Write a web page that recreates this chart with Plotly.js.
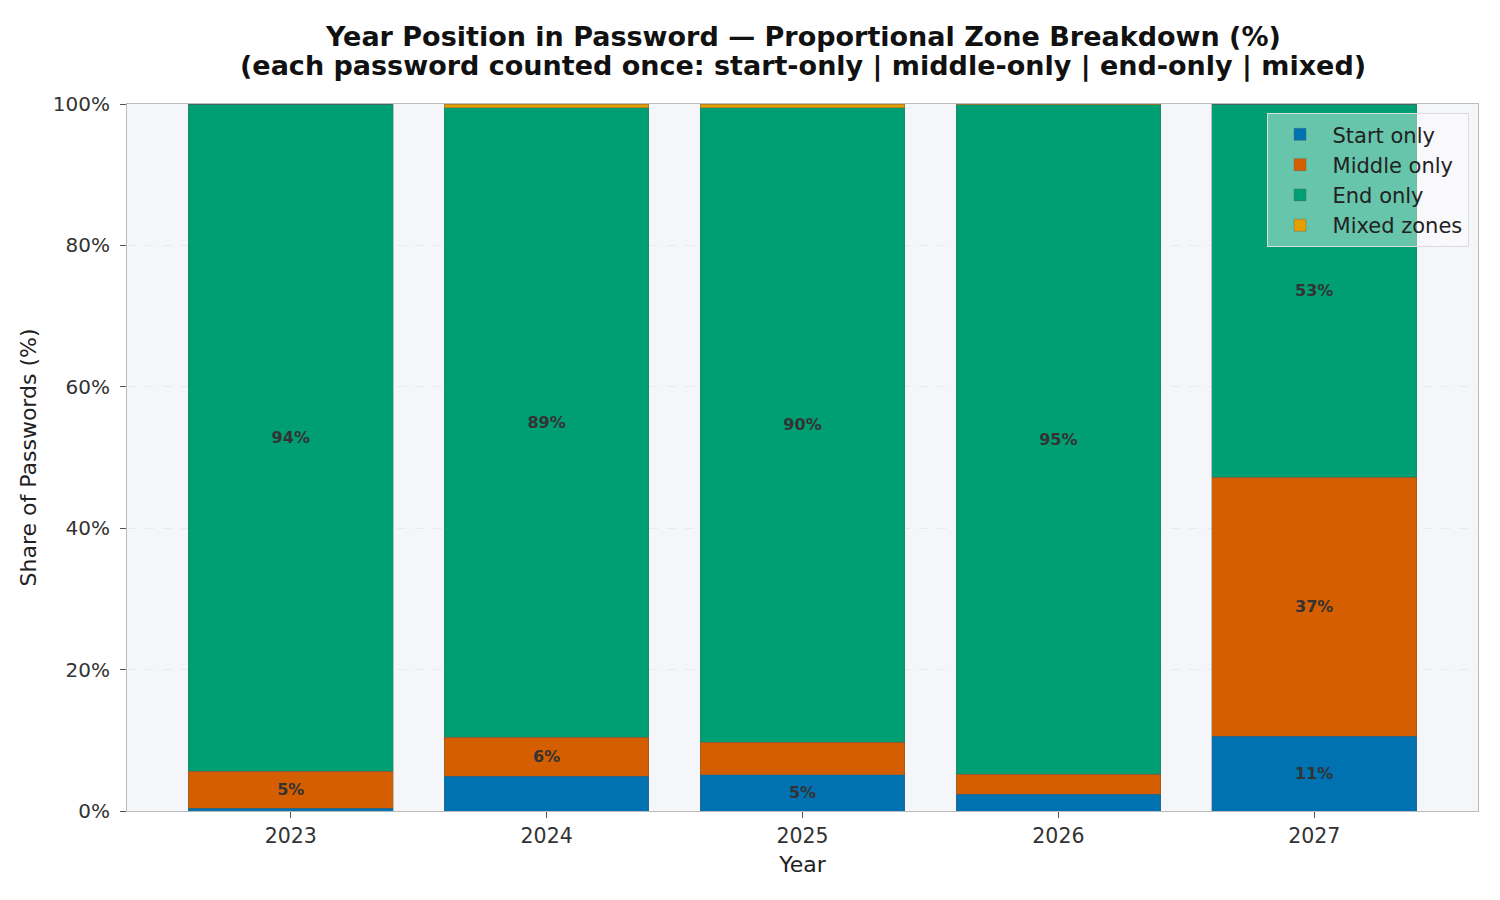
<!DOCTYPE html>
<html><head><meta charset="utf-8">
<script src="https://cdn.plot.ly/plotly-3.0.1.min.js"></script>
<style>html,body{margin:0;padding:0;background:#fff}#chart{width:1500px;height:900px}</style>
</head><body><div id="chart"></div>
<script>
const years = ["2023","2024","2025","2026","2027"];
const startOnly  = [0.4, 4.9, 5.1, 2.35, 10.6];
const middleOnly = [5.2, 5.5, 4.6, 2.85, 36.6];
const endOnly    = [94.4, 89.1, 89.8, 94.7, 52.8];
const mixedZones = [0.0, 0.5, 0.5, 0.1, 0.0];
const seriesNames = ["Start only","Middle only","End only","Mixed zones"];
const seriesColors = ["#0072B2","#D55E00","#009E73","#E69F00"];
const seriesData = [startOnly, middleOnly, endOnly, mixedZones];
const titleLines = ["Year Position in Password — Proportional Zone Breakdown (%)",
                    "(each password counted once: start-only | middle-only | end-only | mixed)"];

const traces = seriesData.map((vals,i)=>({
  type:'bar', x: years, y: vals, name: seriesNames[i],
  width: 0.8,
  marker:{color: seriesColors[i], line:{color:'rgba(90,90,90,0.6)', width:0.6}},
  text: vals.map(v => v >= 5 ? Math.round(v)+'%' : ''),
  textposition:'inside', insidetextanchor:'middle', textangle:0,
  textfont:{family:'DejaVu Sans', size:16, color:'#333333', weight:'bold'},
  hoverinfo:'skip', cliponaxis:false
}));

const titleFont = {family:'DejaVu Sans', size:27, color:'#111', weight:'bold'};
const layout = {
  width:1500, height:900,
  barmode:'stack',
  paper_bgcolor:'#ffffff', plot_bgcolor:'#F5F6FA',
  font:{family:'DejaVu Sans', color:'#222'},
  margin:{l:127, r:22, t:104, b:89},
  title:{text:''},
  annotations:[
    {text:'<b>'+titleLines[0]+'</b>', xref:'paper', yref:'paper', x:0.5, y:1.0948, xanchor:'center', yanchor:'middle', showarrow:false, font:titleFont},
    {text:'<b>'+titleLines[1]+'</b>', xref:'paper', yref:'paper', x:0.5, y:1.0537, xanchor:'center', yanchor:'middle', showarrow:false, font:titleFont}
  ],
  xaxis:{type:'category', range:[-0.64,4.64], showline:true, mirror:true, linecolor:'#BBBBBB', linewidth:1,
    ticks:'outside', ticklen:6, tickcolor:'#555', tickfont:{size:20.5, color:'#333'},
    title:{text:'Year', font:{size:22, color:'#222'}, standoff:10}, showgrid:false, zeroline:false},
  yaxis:{range:[0,100], tickvals:[0,20,40,60,80,100], ticktext:['0%','20%','40%','60%','80%','100%'],
    showline:true, mirror:true, linecolor:'#BBBBBB', linewidth:1, ticks:'outside', ticklen:6, tickcolor:'#555',
    ticklabelstandoff:6,
    tickfont:{size:20, color:'#333'}, gridcolor:'#E6E7EC', griddash:'dash', gridwidth:0.8, zeroline:false,
    title:{text:'Share of Passwords (%)', font:{size:22, color:'#222'}, standoff:10}},
  legend:{x:0.993, xanchor:'right', y:0.987, yanchor:'top', bgcolor:'rgba(255,255,255,0.4)',
    bordercolor:'#DDDDDD', borderwidth:1, font:{size:21, color:'#222'}, traceorder:'normal', itemwidth:55},
  showlegend:true
};
Plotly.newPlot('chart', traces, layout, {displayModeBar:false, staticPlot:true});
</script></body></html>
